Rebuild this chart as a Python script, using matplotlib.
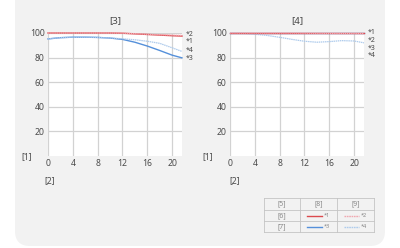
import matplotlib
matplotlib.use('Agg')
import matplotlib.pyplot as plt
from matplotlib.patches import FancyBboxPatch

plt.rcParams['font.family'] = ['Noto Sans', 'DejaVu Sans']

# data
x = [0, 2, 4, 6, 8, 10, 12, 14, 16, 18, 20, 21.6]
left_s1 = [100, 100, 100, 100, 100, 100, 99.8, 99.3, 98.8, 98.3, 97.8, 97.5]
left_s2 = [100, 100, 100, 100, 100, 100, 99.9, 99.5, 99.0, 98.6, 98.3, 98.0]
left_s3 = [95.2, 96.2, 96.6, 96.6, 96.4, 95.9, 94.8, 92.5, 89.4, 85.8, 82.0, 79.8]
left_s4 = [95.2, 96.2, 96.6, 96.6, 96.4, 96.0, 95.3, 94.5, 93.3, 91.6, 88.0, 85.0]
right_s1 = [100, 100, 100, 100, 100, 100, 100, 100, 100, 100, 100, 100]
right_s2 = [100, 100, 100, 100, 100, 100, 99.9, 99.8, 99.7, 99.6, 99.6, 99.5]
right_s3 = [99.6, 99.6, 99.6, 99.6, 99.6, 99.6, 99.6, 99.6, 99.6, 99.6, 99.6, 99.6]
right_s4 = [100, 99.8, 99.0, 98.0, 96.5, 94.8, 93.3, 92.5, 93.0, 93.8, 93.5, 92.0]
xticks = [0, 4, 8, 12, 16, 20]
yticks = [20, 40, 60, 80, 100]
series_names = ['*1', '*2', '*3', '*4']

c_red = '#dc4a4e'
c_red_l = '#f0a8b0'
c_blue = '#5590da'
c_blue_l = '#aecbec'
txt = '#4a4a4a'
grid = '#d2d2d2'
dots = (0, (1.2, 0.5))

W, H = 400, 248
fig = plt.figure(figsize=(4, 2.48), dpi=100)

# background panel in pixel coordinates
bg = fig.add_axes([0, 0, 1, 1])
bg.set_xlim(0, W)
bg.set_ylim(H, 0)
bg.axis('off')
bg.add_patch(FancyBboxPatch((15, -20), 370, 266, boxstyle='round,pad=0,rounding_size=15',
                            fc='#f2f2f2', ec='none'))


def make_axes(x0, title, data, label_y, lx):
    ax = fig.add_axes([x0 / W, (H - 156) / H, 134 / W, 123 / H])
    ax.set_facecolor('white')
    ax.set_xlim(0, 21.6)
    ax.set_ylim(0, 100)
    for s in ax.spines.values():
        s.set_visible(False)
    ax.set_xticks(xticks)
    ax.set_yticks(yticks)
    ax.tick_params(length=0, labelsize=6.2, colors=txt, pad=2.5)
    ax.grid(True, color=grid, lw=0.9)
    ax.set_axisbelow(True)
    s1, s2, s3, s4 = data
    ax.plot(x, s3, color=c_blue, lw=1.0, clip_on=False, zorder=3)
    ax.plot(x, s4, color=c_blue_l, lw=0.9, ls=dots, clip_on=False, zorder=3)
    ax.plot(x, s1, color=c_red, lw=1.0, clip_on=False, zorder=4)
    ax.plot(x, s2, color=c_red_l, lw=0.9, ls=dots, clip_on=False, zorder=4)
    for name, yy in zip(series_names, label_y):
        ax.text(lx, yy, name, fontsize=5, color=txt, va='center', ha='left', clip_on=False)
    ax.set_title(title, fontsize=7, color=txt, pad=7)
    return ax


make_axes(48, '[3]', (left_s1, left_s2, left_s3, left_s4), [92.7, 98.4, 78.9, 85.4], 22.2)
make_axes(230, '[4]', (right_s1, right_s2, right_s3, right_s4), [100, 93.5, 87.8, 82.1], 22.2)

# axis captions
for px, py, t in [(27, 157, '[1]'), (50, 181, '[2]'), (208, 157, '[1]'), (235, 181, '[2]')]:
    bg.text(px, py, t, fontsize=6.2, color=txt, ha='center', va='center')

# legend table
tx = [264, 300, 337, 374]
ty = [198, 210, 221, 232]
bg.add_patch(plt.Rectangle((tx[0], ty[0]), tx[-1] - tx[0], ty[-1] - ty[0], fc='white', ec='none', zorder=0))
for xx in tx:
    bg.plot([xx, xx], [ty[0], ty[-1]], color='#c4c4c4', lw=0.6)
for yy in ty:
    bg.plot([tx[0], tx[-1]], [yy, yy], color='#c4c4c4', lw=0.6)
head = ['[5]', '[8]', '[9]']
for i, t in enumerate(head):
    bg.text((tx[i] + tx[i + 1]) / 2, (ty[0] + ty[1]) / 2, t, fontsize=5, color='#888888', ha='center', va='center')
for r, t in enumerate(['[6]', '[7]']):
    bg.text((tx[0] + tx[1]) / 2, (ty[r + 1] + ty[r + 2]) / 2, t, fontsize=5, color='#888888', ha='center', va='center')
leg = [(c_red, '-', '*1'), (c_red_l, dots, '*2'), (c_blue, '-', '*3'), (c_blue_l, dots, '*4')]
for k, (c, ls, name) in enumerate(leg):
    col, row = k % 2, k // 2
    x0 = tx[col + 1] + 7
    yy = (ty[row + 1] + ty[row + 2]) / 2
    bg.plot([x0, x0 + 15], [yy, yy], color=c, lw=1.0, ls=ls)
    bg.text(x0 + 17, yy, name, fontsize=4, color='#888888', ha='left', va='center')

fig.savefig('out.png', dpi=100)
